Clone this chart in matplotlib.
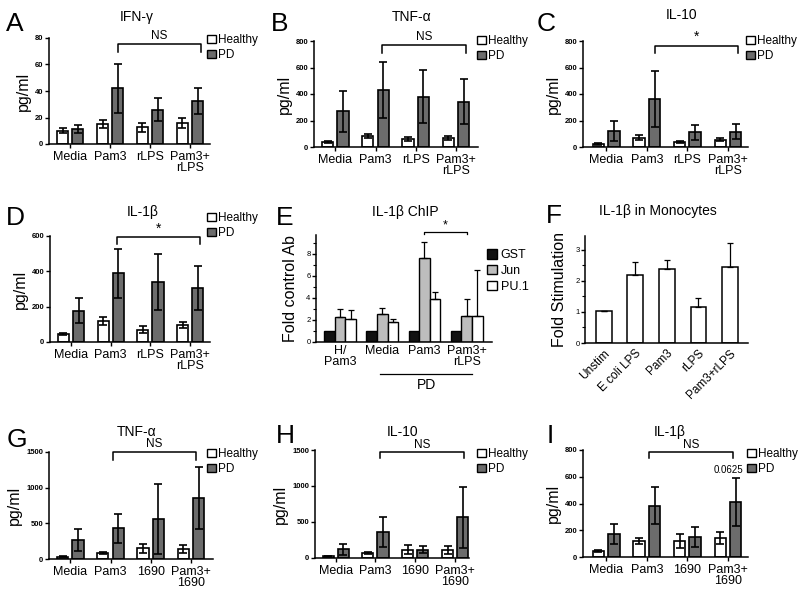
import numpy as np
import matplotlib
matplotlib.use('Agg')
import matplotlib.pyplot as plt
from matplotlib.patches import Patch
from matplotlib.ticker import MultipleLocator

plt.rcParams['font.family'] = ['Liberation Sans', 'DejaVu Sans']

W, H = 801, 600

# ---- data ----
stim_a = ['Media', 'Pam3', 'rLPS', 'Pam3+\nrLPS']
stim_g = ['Media', 'Pam3', '1690', 'Pam3+\n1690']

ifng_h = [10, 15, 12.5, 16]
ifng_h_err = [2, 3, 3.5, 4]
ifng_pd = [11, 42, 26, 32.5]
ifng_pd_err = [3, 18.5, 8.5, 9.5]

tnf_h = [35, 85, 60, 70]
tnf_h_err = [8, 15, 15, 15]
tnf_pd = [270, 430, 380, 340]
tnf_pd_err = [155, 210, 200, 170]

il10_h = [25, 70, 35, 55]
il10_h_err = [7, 18, 8, 12]
il10_pd = [120, 360, 110, 115]
il10_pd_err = [75, 212, 58, 58]

il1b_h = [45, 120, 70, 95]
il1b_h_err = [6, 22, 20, 18]
il1b_pd = [178, 388, 340, 308]
il1b_pd_err = [72, 138, 157, 125]

chip_groups = ['H/\nPam3', 'Media', 'Pam3', 'Pam3+\nrLPS']
chip_gst = [1.0, 1.0, 1.0, 1.0]
chip_jun = [2.3, 2.5, 7.6, 2.4]
chip_jun_err = [0.7, 0.6, 1.5, 1.5]
chip_pu1 = [2.1, 1.8, 3.9, 2.4]
chip_pu1_err = [0.8, 0.25, 0.65, 4.1]

mono_stim = ['Unstim', 'E coli LPS', 'Pam3', 'rLPS', 'Pam3+rLPS']
mono_fold = [1.02, 2.2, 2.37, 1.17, 2.45]
mono_err = [0, 0.42, 0.32, 0.28, 0.78]

tnf2_h = [33, 84, 149, 140]
tnf2_h_err = [8, 12, 65, 50]
tnf2_pd = [270, 430, 560, 855]
tnf2_pd_err = [155, 205, 485, 440]

il10b_h = [23, 70, 115, 115]
il10b_h_err = [5, 12, 65, 55]
il10b_pd = [120, 360, 115, 563]
il10b_pd_err = [75, 210, 48, 430]

il1b2_h = [45, 120, 120, 140]
il1b2_h_err = [7, 22, 50, 45]
il1b2_pd = [172, 385, 148, 410]
il1b2_pd_err = [75, 137, 75, 180]

pd_color = '#6c6c6c'
jun_color = '#bdbdbd'

fig = plt.figure(figsize=(W / 100, H / 100), dpi=100)


def box(x0, y0, x1, y1):
    return [x0 / W, 1 - y1 / H, (x1 - x0) / W, (y1 - y0) / H]


def style(ax, bold=True):
    for s in ['top', 'right']:
        ax.spines[s].set_visible(False)
    for s in ['left', 'bottom']:
        ax.spines[s].set_linewidth(1.1)
    ax.tick_params(axis='y', length=3, width=1, labelsize=5.5, pad=1)
    ax.tick_params(axis='x', length=3, width=1, labelsize=9, pad=2)
    if bold:
        for t in ax.get_yticklabels():
            t.set_fontweight('bold')


def letter(x, y, s):
    fig.text(x / W, 1 - y / H, s, fontsize=19, va='top', ha='left')


def ftitle(x, y, s):
    fig.text(x / W, 1 - y / H, s, fontsize=10, va='center', ha='center')


def legend2(x, y):
    handles = [Patch(facecolor='white', edgecolor='k', lw=1),
               Patch(facecolor=pd_color, edgecolor='k', lw=1)]
    fig.legend(handles, ['Healthy', 'PD'], loc='upper left',
               bbox_to_anchor=(x / W, 1 - y / H), frameon=False,
               fontsize=8.5, handlelength=0.75, handleheight=0.75,
               handletextpad=0.2, borderpad=0, borderaxespad=0,
               labelspacing=0.25)


def grouped(px, cats, h, h_err, p, p_err, ylim, ystep, xlim, br, sig,
            note=None):
    ax = fig.add_axes(box(*px))
    x = np.arange(len(cats))
    off, wd = 0.19, 0.28
    ax.bar(x - off, h, wd, color='white', edgecolor='k', lw=1.2, zorder=2)
    ax.bar(x + off, p, wd, color=pd_color, edgecolor='k', lw=1.2, zorder=2)
    ax.errorbar(x - off, h, yerr=h_err, fmt='none', ecolor='k',
                elinewidth=1.2, capsize=3, capthick=1.2, zorder=3)
    ax.errorbar(x + off, p, yerr=p_err, fmt='none', ecolor='k',
                elinewidth=1.2, capsize=3, capthick=1.2, zorder=3)
    ax.set_ylim(0, ylim)
    ax.set_xlim(*xlim)
    ax.set_yticks(np.arange(0, ylim + 1, ystep))
    ax.set_xticks(x)
    ax.set_xticklabels(cats, linespacing=0.95)
    ax.set_ylabel('pg/ml', fontsize=11.5, labelpad=3)
    style(ax)
    # significance bracket
    x0, x1, ytop, ytail = br
    tr = ax.get_xaxis_transform()
    ax.plot([x0, x0, x1, x1], [ytail, ytop, ytop, ytail], color='k',
            lw=1.1, transform=tr, clip_on=False)
    ax.text((x0 + x1) / 2, ytop + 0.015, sig, transform=tr, ha='center',
            va='bottom', fontsize=8.5 if sig == 'NS' else 10)
    if note is not None:
        ax.text(x[-1] + off - 0.17, p[-1] + p_err[-1] + ylim * 0.03, note,
                ha='center', va='bottom', fontsize=7)
    return ax


# ---- row 1 ----
letter(6, 12, 'A')
ftitle(137, 17, 'IFN-\u03b3')
grouped((49, 38, 210, 144), stim_a, ifng_h, ifng_h_err, ifng_pd, ifng_pd_err,
        80, 20, (-0.53, 3.5), (1.19, 3.27, 0.945, 0.87), 'NS')
legend2(207, 34)

letter(271, 12, 'B')
ftitle(412, 17, 'TNF-\u03b1')
grouped((314, 41, 478, 147), stim_a, tnf_h, tnf_h_err, tnf_pd, tnf_pd_err,
        800, 200, (-0.53, 3.55), (1.16, 3.25, 0.962, 0.887), 'NS')
legend2(477, 35)

letter(537, 12, 'C')
ftitle(682, 15, 'IL-10')
grouped((583, 41, 748, 147), stim_a, il10_h, il10_h_err, il10_pd, il10_pd_err,
        800, 200, (-0.57, 3.49), (1.2, 3.25, 0.955, 0.887), '*')
legend2(746, 35)

# ---- row 2 ----
letter(6, 206, 'D')
ftitle(143, 212, 'IL-1\u03b2')
grouped((50, 236, 210, 342), stim_a, il1b_h, il1b_h_err, il1b_pd, il1b_pd_err,
        600, 200, (-0.53, 3.5), (1.16, 3.25, 0.99, 0.925), '*')
legend2(207, 212)

# E: ChIP
letter(276, 206, 'E')
ftitle(405, 212, 'IL-1\u03b2 ChIP')
axE = fig.add_axes(box(316, 235, 492, 342))
xe = np.arange(len(chip_groups))
bw = 0.25
axE.bar(xe - bw, chip_gst, bw, color='#111111', edgecolor='k', lw=1, zorder=2)
axE.bar(xe, chip_jun, bw, color=jun_color, edgecolor='k', lw=1, zorder=2)
axE.bar(xe + bw, chip_pu1, bw, color='white', edgecolor='k', lw=1, zorder=2)
axE.errorbar(xe, chip_jun, yerr=[np.zeros(4), chip_jun_err], fmt='none',
             ecolor='k', elinewidth=0.9, capsize=2.5, capthick=0.9, zorder=3)
axE.errorbar(xe + bw, chip_pu1, yerr=[np.zeros(4), chip_pu1_err], fmt='none',
             ecolor='k', elinewidth=0.9, capsize=2.5, capthick=0.9, zorder=3)
axE.set_ylim(0, 9.7)
axE.set_xlim(-0.57, 3.6)
axE.set_yticks([0, 2, 4, 6, 8])
axE.yaxis.set_minor_locator(MultipleLocator(1))
axE.tick_params(axis='y', which='minor', length=2, width=0.8)
axE.set_xticks(xe)
axE.set_xticklabels(chip_groups, linespacing=0.95)
axE.set_ylabel('Fold control Ab', fontsize=11.5, labelpad=6)
style(axE, bold=False)
axE.tick_params(axis='x', length=0)
trE = axE.get_xaxis_transform()
axE.plot([xe[2], xe[2], xe[3], xe[3]], [1.01, 1.03, 1.03, 1.01], color='k',
         lw=0.9, transform=trE, clip_on=False)
axE.text((xe[2] + xe[3]) / 2, 1.035, '*', transform=trE, ha='center',
         va='bottom', fontsize=9)
axE.plot([0.95, 3.13], [-0.30, -0.30], color='k', lw=0.9, transform=trE,
         clip_on=False)
axE.text(2.04, -0.34, 'PD', transform=trE, ha='center', va='top', fontsize=10)
hE = [Patch(facecolor='#111111', edgecolor='k', lw=1),
      Patch(facecolor=jun_color, edgecolor='k', lw=1),
      Patch(facecolor='white', edgecolor='k', lw=1)]
fig.legend(hE, ['GST', 'Jun', 'PU.1'], loc='upper left',
           bbox_to_anchor=(487 / W, 1 - 249 / H), frameon=False, fontsize=9,
           handlelength=0.8, handleheight=0.8, handletextpad=0.3,
           borderpad=0, borderaxespad=0, labelspacing=0.3)

# F: monocytes
letter(546, 204, 'F')
ftitle(658, 211, 'IL-1\u03b2 in Monocytes')
axF = fig.add_axes(box(585, 236, 748, 343))
xf = np.arange(len(mono_stim))
axF.bar(xf, mono_fold, 0.5, color='white', edgecolor='k', lw=1.1, zorder=2)
axF.errorbar(xf, mono_fold, yerr=[np.zeros(5), mono_err], fmt='none',
             ecolor='k', elinewidth=0.9, capsize=2.5, capthick=0.9, zorder=3)
axF.set_ylim(0, 3.45)
axF.set_xlim(-0.59, 4.57)
axF.set_yticks([0, 1, 2, 3])
axF.yaxis.set_minor_locator(MultipleLocator(0.5))
axF.tick_params(axis='y', which='minor', length=2, width=0.8)
axF.set_xticks(xf)
axF.set_xticklabels(mono_stim, rotation=45, ha='right',
                    rotation_mode='anchor', fontsize=8.5)
axF.set_ylabel('Fold Stimulation', fontsize=11.5, labelpad=6)
style(axF, bold=False)
axF.tick_params(axis='x', length=0, labelsize=8.5, pad=3)

# ---- row 3 ----
letter(7, 428, 'G')
ftitle(137, 432, 'TNF-\u03b1')
grouped((49, 452, 213, 559), stim_g, tnf2_h, tnf2_h_err, tnf2_pd, tnf2_pd_err,
        1500, 500, (-0.53, 3.55), (1.06, 3.13, 1.0, 0.925), 'NS')
legend2(207, 448)

letter(276, 424, 'H')
ftitle(403, 432, 'IL-10')
grouped((315, 450, 469, 558), stim_g, il10b_h, il10b_h_err, il10b_pd,
        il10b_pd_err, 1500, 500, (-0.52, 3.35), (1.11, 3.22, 0.98, 0.925),
        'NS')
legend2(477, 448)

letter(547, 424, 'I')
ftitle(670, 432, 'IL-1\u03b2')
grouped((583, 450, 748, 557), stim_g, il1b2_h, il1b2_h_err, il1b2_pd,
        il1b2_pd_err, 800, 200, (-0.57, 3.49), (1.06, 3.12, 0.98, 0.925),
        'NS', note='0.0625')
legend2(747, 448)

fig.savefig('out.png', dpi=100)
